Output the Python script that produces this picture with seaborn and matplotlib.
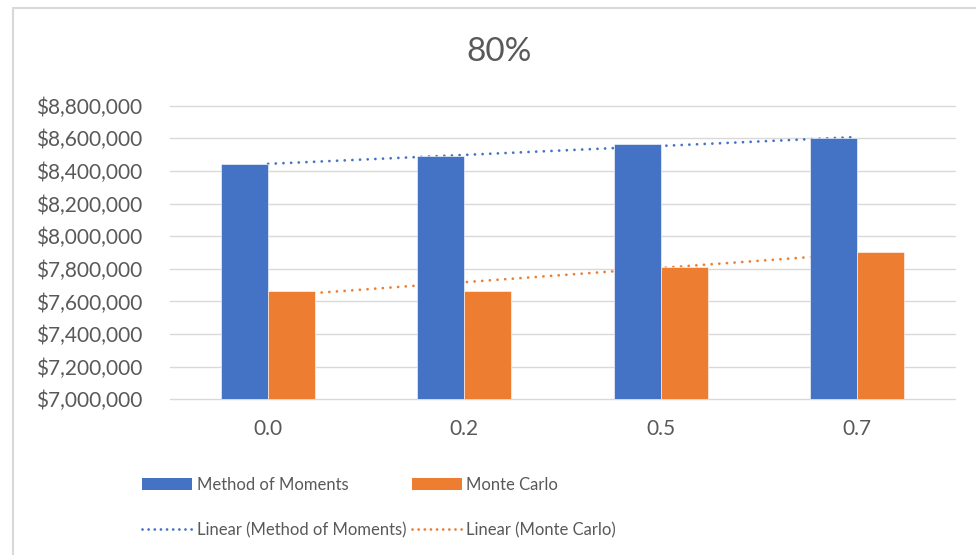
import numpy as np
import pandas as pd
import matplotlib
matplotlib.use("Agg")
import matplotlib.pyplot as plt
from matplotlib.lines import Line2D
from matplotlib.patches import Patch, Rectangle
from matplotlib.ticker import StrMethodFormatter, MultipleLocator
import seaborn as sns

# Correlation levels and estimated totals at the 80% level
categories = ["0.0", "0.2", "0.5", "0.7"]
method_of_moments = [8445000, 8491000, 8563000, 8604000]
monte_carlo = [7664000, 7664000, 7814000, 7905000]
series_names = ["Method of Moments", "Monte Carlo"]
title = "80%"

BLUE = "#4472C4"
ORANGE = "#ED7D31"
GRID = "#D9D9D9"
TEXT = "#595959"

sns.set_theme(style="white")
plt.rcParams["font.family"] = ["Lato", "DejaVu Sans"]

df = pd.DataFrame({
    "rho": categories * 2,
    "value": method_of_moments + monte_carlo,
    "method": [series_names[0]] * 4 + [series_names[1]] * 4,
})

fig = plt.figure(figsize=(9.76, 5.55), dpi=100)
W, H = 976, 555
ax = fig.add_axes([170 / W, 1 - 399.3 / H, (955 - 170) / W, (399.3 - 105.7) / H])

sns.barplot(data=df, x="rho", y="value", hue="method", order=categories,
            hue_order=series_names, palette=[BLUE, ORANGE], saturation=1,
            width=0.48, gap=0, legend=False, ax=ax, edgecolor="white",
            linewidth=0.4, zorder=2)

# Linear trendlines fitted across category positions
xs = np.arange(len(categories))
for vals, col in [(method_of_moments, BLUE), (monte_carlo, ORANGE)]:
    slope, intercept = np.polyfit(xs, vals, 1)
    ax.plot([xs[0], xs[-1]], [intercept + slope * xs[0], intercept + slope * xs[-1]],
            color=col, lw=2.0, linestyle=(0, (0.01, 2.75)),
            dash_capstyle="round", zorder=1.5)

ax.set_xlim(-0.5, 3.5)
ax.set_ylim(7000000, 8800000)
ax.yaxis.set_major_locator(MultipleLocator(200000))
ax.yaxis.set_major_formatter(StrMethodFormatter("${x:,.0f}"))
ax.grid(axis="y", color=GRID, lw=1.0, zorder=0)
ax.set_axisbelow(True)
for gl in ax.get_ygridlines():
    gl.set_clip_on(False)
for s in ax.spines.values():
    s.set_visible(False)
ax.set_xlabel("")
ax.set_ylabel("")
ax.tick_params(axis="y", length=0, pad=20, labelsize=15, labelcolor=TEXT)
ax.tick_params(axis="x", length=0, pad=14, labelsize=15, labelcolor=TEXT)

fig.text(499 / W, 1 - 52 / H, title, ha="center", va="center",
         fontsize=24, color=TEXT)

handles = [
    Patch(facecolor=BLUE, edgecolor="none", label="Method of Moments"),
    Line2D([0], [0], color=BLUE, lw=2.0, linestyle=(0, (0.01, 2.2)),
           dash_capstyle="round", label="Linear (Method of Moments)"),
    Patch(facecolor=ORANGE, edgecolor="none", label="Monte Carlo"),
    Line2D([0], [0], color=ORANGE, lw=2.0, linestyle=(0, (0.01, 2.2)),
           dash_capstyle="round", label="Linear (Monte Carlo)"),
]
leg = fig.legend(handles=handles, ncol=2, loc="upper left",
                 bbox_to_anchor=(142 / W, 1 - 477 / H), frameon=False,
                 fontsize=12, handlelength=3.0, handleheight=0.75,
                 handletextpad=0.3, columnspacing=0.3, labelspacing=1.75,
                 borderpad=0, borderaxespad=0)
for t in leg.get_texts():
    t.set_color(TEXT)

# Chart-area border
fig.add_artist(Rectangle((13 / W, -0.05), 1.2, 1 - 8 / H + 0.05,
                         transform=fig.transFigure, fill=False,
                         edgecolor=GRID, lw=1.5))

fig.savefig("out.png", dpi=100)
